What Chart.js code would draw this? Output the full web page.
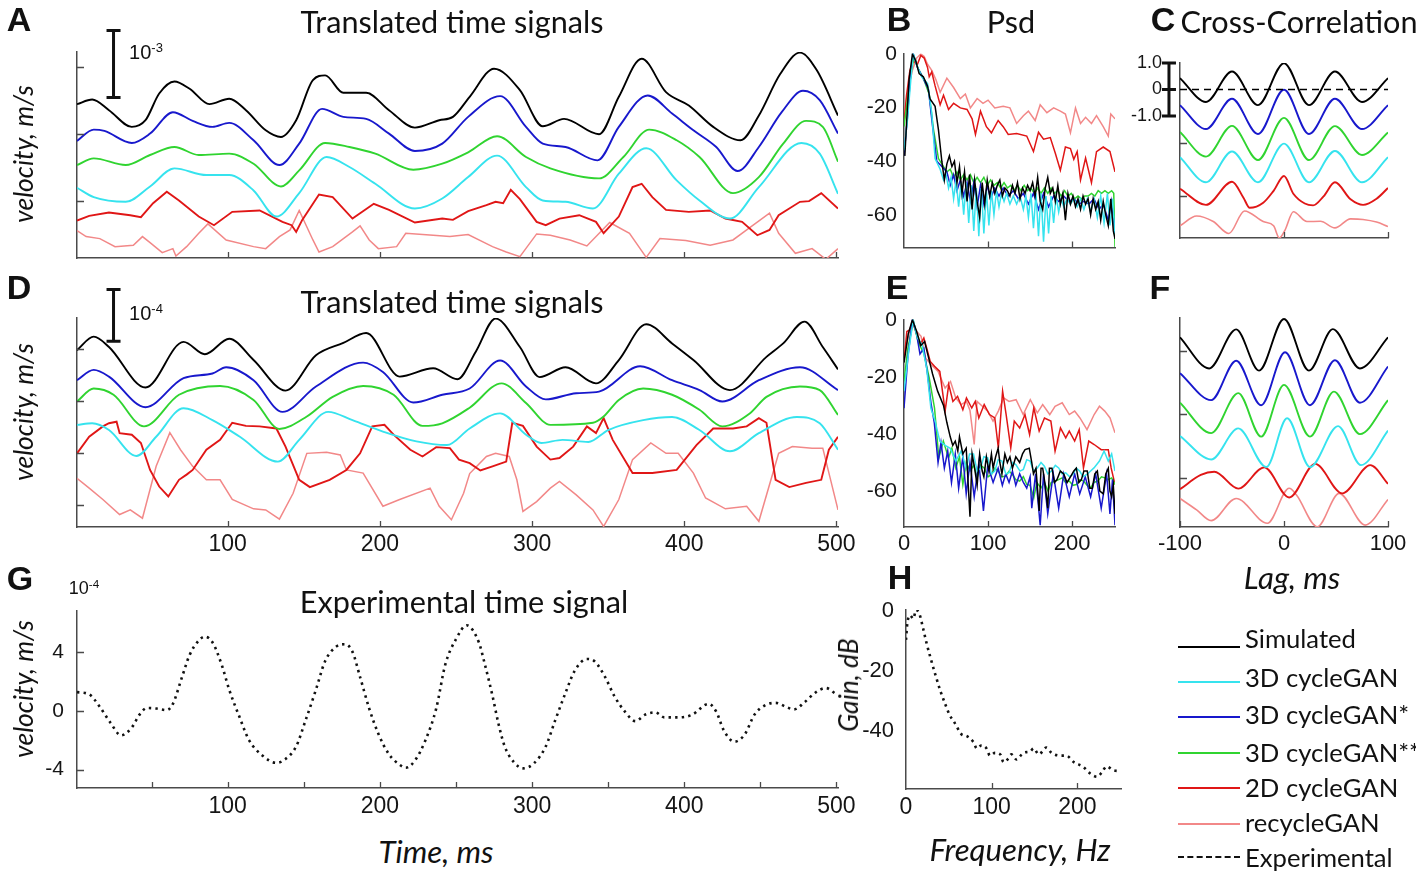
<!DOCTYPE html>
<html>
<head>
<meta charset="utf-8">
<script src="https://cdn.jsdelivr.net/npm/chart.js@4.4.1/dist/chart.umd.min.js"></script>
<style>
  body { margin: 0; width: 1416px; height: 872px; background: #fff; position: relative; overflow: hidden; }
  canvas { position: absolute; }
  .lbl { position: absolute; white-space: nowrap; line-height: 1; color: #111; }
  .lbl sup { font-size: 0.65em; vertical-align: 0.55em; }
  .key { position: absolute; height: 0; width: 62px; }
</style>
</head>
<body>
<script>
/* Simulated vs translated signals figure (panels A-H) */

// ---- A: translated time signals, x in ms, y in 1e-4 m/s (traces offset) ----
const A_sim = [[1,14.5],[11,15.2],[22,13.6],[37,11.1],[46,12.1],[55,16.1],[65,17.9],[75,16.8],[88,14.5],[101,15.3],[112,13.6],[125,10.6],[135,9.6],[145,12.1],[156,18.1],[164,18.8],[176,16.2],[191,16.2],[206,13.6],[223,11],[239,12.1],[248,12.6],[259,15.6],[275,19.8],[292,16.6],[307,11.2],[321,12.3],[344,10],[357,15.6],[372,21.3],[388,16.3],[403,14.3],[419,11.1],[437,9.1],[449,12.8],[463,19],[476,22.2],[487,19.6],[501,12.8]];
const A_c3s = [[1,9],[12,10.7],[19,10.5],[37,8.7],[49,10.1],[64,13.3],[77,12],[90,11.1],[101,11.7],[117,9.1],[134,5.4],[147,8.6],[162,13.8],[176,12.6],[191,12.3],[206,10.1],[223,7.5],[241,8.6],[258,12.6],[279,15.7],[296,11.1],[307,8.6],[322,8.1],[343,6.1],[357,11.1],[376,15.8],[392,13.1],[406,10.6],[421,8.1],[435,4.5],[449,8.1],[464,13.3],[478,16.5],[489,15.1],[501,10.1]];
const A_c3ss = [[1,5.4],[12,6.4],[33,5.4],[49,6.9],[65,8.1],[81,6.9],[101,7.1],[117,5.6],[135,2.2],[147,4.6],[164,8.7],[180,8.1],[197,7.1],[222,4.7],[241,5.6],[258,7.3],[277,9.7],[296,6.6],[312,4.9],[344,3.4],[360,6.6],[377,10.7],[395,9.1],[410,6.6],[432,1.2],[449,3.6],[465,8.6],[480,12],[491,11.1],[501,5.9]];
const A_c3 = [[1,2],[12,0.6],[33,-0.1],[49,2.2],[65,4.9],[86,3.9],[101,3.9],[117,1.6],[132,-2.3],[147,1.2],[165,6.6],[180,5.1],[197,2.6],[223,-1.1],[241,0.4],[258,3.6],[277,6.8],[296,2.1],[307,0.1],[322,-0.1],[340,-1.1],[357,4.1],[375,7.9],[395,3.1],[410,0.1],[430,-2.6],[449,2.1],[477,8.7],[489,7.1],[501,1.1]];
const A_c2 = [[1,-2.9],[9,-2.2],[22,-1.7],[36,-2.1],[43,-2.4],[51,-0.3],[60,1.4],[68,0.1],[81,-2.3],[91,-3.6],[103,-1.6],[121,-1.4],[136,-3.1],[142,-3.6],[145,-4.6],[149,-2.8],[160,1],[169,0.6],[182,-2.6],[196,-0.4],[206,-1.3],[223,-3.2],[241,-2.6],[248,-2.8],[258,-1.5],[270,-0.6],[276,-0.1],[281,-0.3],[286,1.7],[292,0.3],[303,-3.1],[309,-3.6],[318,-2.6],[331,-2.1],[342,-3.1],[347,-4.8],[357,-2.3],[366,2.1],[372,2.6],[379,0.6],[388,-1.3],[403,-1.6],[417,-1.4],[427,-2.6],[438,-3.1],[448,-5.1],[456,-4.3],[462,-2.1],[476,-0.1],[482,0],[490,1.2],[501,-1.1]];
const A_re = [[1,-4.4],[7,-5.3],[16,-5.6],[26,-6.8],[38,-6.6],[44,-5.3],[49,-6.2],[57,-7.7],[64,-7.1],[66,-8.2],[73,-6.8],[81,-4.8],[87,-3.4],[99,-5.8],[117,-6.8],[125,-7.1],[134,-5.3],[141,-4.3],[147,-1.4],[156,-5.8],[160,-7.6],[169,-6.8],[182,-4.6],[187,-3.7],[193,-5.8],[199,-7.1],[211,-6.8],[217,-4.8],[235,-5.1],[246,-5.3],[258,-5],[274,-6.8],[283,-7.6],[292,-8.3],[303,-4.9],[312,-5.1],[325,-5.8],[336,-6.7],[351,-3.2],[364,-4.8],[375,-8.4],[384,-5.6],[401,-5.9],[417,-6.6],[432,-5.8],[441,-4.3],[456,-1.8],[462,-4.8],[473,-7.8],[484,-7.1],[493,-8.7],[501,-7.1]];

// ---- D: translated time signals, y in 1e-4 m/s ----
const D_sim = [[1,2.98],[12,3.24],[22,3.04],[46,2.26],[71,3.14],[85,2.9],[101,3.2],[117,2.79],[138,2.2],[158,2.88],[176,3.12],[191,3.31],[213,2.47],[235,2.63],[251,2.42],[263,2.95],[276,3.59],[292,3.04],[305,2.46],[322,2.65],[342,2.34],[357,2.79],[375,3.48],[392,3.11],[406,2.79],[430,2.21],[454,2.85],[465,3.11],[479,3.53],[491,3.04],[501,2.61]];
const D_c3s = [[1,2.4],[12,2.6],[22,2.47],[46,1.88],[71,2.44],[90,2.53],[99,2.65],[117,2.4],[136,1.79],[158,2.28],[189,2.74],[202,2.56],[222,1.97],[241,2.12],[259,2.24],[279,2.78],[296,2.28],[309,2.03],[329,2.15],[344,2.18],[371,2.67],[392,2.4],[410,2.21],[425,1.99],[449,2.4],[476,2.65],[501,2.21]];
const D_c3ss = [[1,1.99],[12,2.24],[25,2.12],[45,1.51],[68,2.12],[95,2.29],[117,2.02],[134,1.46],[152,1.7],[169,2.08],[189,2.29],[209,2.12],[228,1.52],[241,1.57],[259,1.87],[280,2.34],[296,1.96],[312,1.54],[340,1.58],[347,1.7],[357,2.02],[373,2.24],[392,2.12],[410,1.83],[425,1.51],[443,1.76],[454,2.08],[476,2.28],[489,2.21],[501,1.73]];
const D_c3 = [[1,1.54],[11,1.57],[22,1.44],[40,0.94],[53,1.31],[71,1.86],[90,1.63],[108,1.31],[133,0.83],[147,1.25],[166,1.79],[182,1.63],[202,1.41],[224,1.22],[244,1.15],[259,1.47],[279,1.76],[296,1.35],[306,1.19],[320,1.25],[337,1.21],[350,1.44],[373,1.63],[392,1.69],[410,1.44],[430,1.03],[449,1.38],[474,1.69],[489,1.57],[501,1.06]];
const D_c2 = [[1,0.99],[9,1.31],[18,1.51],[22,1.57],[27,1.6],[29,1.38],[37,1.35],[43,1.19],[49,0.67],[55,0.35],[61,0.16],[68,0.48],[73,0.58],[77,0.67],[86,1.06],[95,1.25],[103,1.58],[112,1.52],[121,1.51],[132,1.47],[138,1.12],[147,0.48],[154,0.34],[167,0.48],[178,0.67],[187,0.99],[195,1.51],[203,1.54],[209,1.35],[220,1.06],[228,0.93],[237,1.11],[246,1.09],[252,0.87],[259,0.8],[266,0.66],[274,0.74],[283,0.83],[287,1.58],[294,1.52],[303,1.12],[312,0.87],[318,0.9],[327,1.12],[336,1.51],[342,1.38],[347,1.67],[353,1.25],[366,0.61],[379,0.61],[395,0.67],[408,1.15],[419,1.47],[432,1.47],[441,1.51],[449,1.67],[454,1.58],[460,0.48],[469,0.34],[480,0.42],[490,0.48],[495,1.06],[501,1.31]];
const D_re = [[1,0.51],[9,0.32],[18,0.1],[29,-0.19],[36,-0.1],[44,-0.26],[53,0.74],[62,1.39],[69,1.06],[77,0.74],[86,0.48],[95,0.48],[103,0.1],[117,-0.08],[125,-0.1],[134,-0.28],[143,0.22],[152,0.99],[165,1.01],[174,0.96],[178,0.67],[189,0.61],[202,-0.03],[213,0.1],[233,0.32],[239,-0.03],[247,-0.29],[255,0.22],[259,0.6],[270,0.93],[276,0.99],[285,0.93],[290,0.48],[294,-0.13],[303,0.06],[312,0.32],[318,0.45],[329,0.19],[340,-0.1],[347,-0.42],[357,0.1],[366,0.87],[378,1.19],[388,0.99],[396,0.99],[406,0.61],[414,0.13],[427,-0.08],[441,-0.03],[449,-0.32],[462,0.99],[471,1.12],[484,1.09],[491,1.09],[501,-0.1]];

// ---- G: experimental time signal, y in 1e-4 m/s ----
const G_exp = [[1,1.29],[9,1.14],[16,0.28],[23,-0.8],[30,-1.66],[37,-1.12],[42,-0.26],[47,0.21],[53,0.17],[60,0.06],[64,0.49],[70,2.32],[75,3.83],[80,4.69],[85,5.08],[90,4.69],[96,3.18],[101,1.46],[108,-0.47],[114,-1.98],[123,-3.05],[132,-3.53],[138,-3.27],[145,-2.41],[151,-0.69],[158,1.46],[164,3.4],[171,4.37],[177,4.56],[182,4.04],[187,2.32],[193,0.17],[199,-1.55],[206,-2.95],[213,-3.66],[217,-3.87],[223,-3.38],[230,-1.98],[237,0.17],[243,3.18],[250,4.9],[257,5.85],[265,4.69],[269,3.18],[274,1.03],[278,-0.9],[282,-2.41],[288,-3.48],[294,-3.91],[301,-3.59],[309,-2.41],[315,-0.69],[322,1.25],[328,2.75],[336,3.55],[341,3.4],[348,2.32],[354,1.03],[361,-0.04],[368,-0.69],[374,-0.26],[381,-0.09],[387,-0.43],[396,-0.43],[405,-0.26],[416,0.49],[421,-0.04],[426,-1.33],[433,-2.09],[440,-1.55],[446,-0.26],[453,0.39],[460,0.56],[467,0.28],[472,0.11],[479,0.6],[486,1.25],[493,1.57],[500,1.14]];

// ---- B: PSD (dB) vs frequency (Hz) ----
const B_sim = [[1,-38],[3,-26],[6,-9.6],[10,0],[14,-2.6],[18,-7.3],[23,-8.5],[28,-11.9],[31,-16.8],[37,-19.5],[41,-28.3],[45,-40],[48,-47],[51,-41],[54,-38],[57,-42],[60,-40],[63,-48],[66,-42],[69,-52],[72,-44],[75,-55],[78,-45],[81,-58],[84,-47],[87,-55],[90,-61],[93,-48],[96,-56],[99,-47],[102,-53],[105,-48],[108,-52],[111,-49],[114,-47],[117,-53],[120,-50],[123,-51],[126,-53],[129,-49],[132,-52],[135,-48],[138,-54],[141,-50],[144,-52],[147,-49],[150,-51],[153,-48],[156,-53],[159,-46],[162,-55],[165,-58],[168,-50],[171,-46],[174,-52],[177,-50],[180,-55],[183,-49],[186,-56],[189,-52],[192,-62],[195,-52],[198,-56],[201,-53],[204,-57],[207,-54],[210,-58],[213,-53],[216,-56],[219,-54],[222,-60],[225,-54],[228,-58],[231,-55],[234,-62],[237,-55],[240,-60],[243,-64],[246,-54],[249,-66],[251,-69]];
const B_c3 = [[0,-36],[4,-25],[8,-10],[11,0],[15,-4],[21,-8.5],[28,-11],[33,-22],[37,-39],[43,-43],[47,-47],[50,-45],[53,-50],[56,-46],[59,-54],[62,-47],[65,-57],[68,-48],[71,-60],[74,-48],[77,-63],[80,-49],[83,-66],[86,-50],[89,-68],[92,-50],[95,-67],[98,-51],[101,-64],[104,-51],[107,-60],[110,-51],[113,-57],[116,-52],[119,-55],[122,-52],[126,-56],[130,-53],[134,-56],[138,-53],[142,-58],[145,-53],[148,-61],[151,-52],[154,-65],[157,-52],[160,-68],[163,-52],[166,-70],[169,-53],[172,-67],[175,-53],[178,-63],[181,-53],[184,-59],[187,-54],[190,-57],[194,-54],[198,-56],[202,-54],[206,-57],[210,-54],[214,-58],[218,-54],[222,-59],[226,-54],[230,-61],[234,-53],[238,-63],[242,-52],[245,-64],[248,-54],[251,-67]];
const B_c3s = [[0,-38],[4,-24],[8,-7],[11,0],[16,-5],[22,-8.5],[29,-13],[34,-27],[39,-40],[45,-42],[51,-44],[55,-49],[59,-45],[63,-51],[67,-47],[71,-53],[75,-48],[79,-55],[83,-48],[87,-57],[91,-49],[95,-56],[99,-49],[103,-54],[108,-50],[113,-53],[118,-50],[124,-53],[130,-51],[136,-54],[142,-52],[148,-56],[154,-52],[160,-58],[166,-52],[172,-57],[178,-53],[184,-55],[190,-53],[196,-55],[202,-54],[208,-56],[214,-55],[220,-56],[226,-54],[232,-58],[237,-56],[243,-62],[247,-55],[251,-67]];
const B_c3ss = [[0,-27],[5,-15],[9,-6],[12,-1],[17,-5.5],[23,-9],[30,-15],[35,-28],[41,-39],[47,-42],[51,-44],[55,-43],[59,-46],[63,-44],[67,-47],[71,-45],[75,-47],[79,-45],[83,-48],[87,-46],[91,-48],[95,-46],[99,-49],[103,-47],[107,-49],[111,-48],[115,-50],[119,-48],[123,-50],[127,-49],[131,-51],[135,-49],[139,-51],[143,-49],[147,-51],[151,-50],[155,-52],[159,-50],[163,-52],[167,-50],[171,-52],[175,-50],[179,-52],[183,-51],[187,-53],[191,-51],[195,-53],[199,-52],[203,-54],[207,-53],[211,-54],[215,-53],[219,-53],[223,-52],[227,-53],[231,-51],[235,-52],[239,-51],[243,-52],[247,-51],[249.5,-52],[251,-72]];
const B_c2 = [[0,-26],[3,-15.4],[7,-6.1],[11,-2.6],[16,-3.8],[20,-0.5],[24,-1.5],[28,-5],[30,-8.5],[33,-6.7],[37,-11.9],[43,-18.9],[47,-15.4],[53,-20.7],[59,-18.4],[67,-20.1],[75,-20.7],[81,-24.2],[85,-30],[91,-21.3],[98,-27.1],[104,-29.4],[112,-24.8],[118,-27.1],[124,-30],[134,-29.7],[146,-30.6],[154,-36.4],[160,-29.2],[166,-31.8],[174,-31.2],[180,-37],[186,-43.4],[192,-34.7],[198,-35.3],[202,-39.3],[206,-36.4],[210,-47],[216,-38.8],[223,-48],[229,-36.4],[237,-34.7],[245,-36.4],[251,-44]];
const B_re = [[0,-22.4],[5,-13.1],[10,-6.1],[15,-1.5],[20,0],[24,-0.9],[28,-3.8],[33,-6.1],[38,-9.6],[43,-14.3],[51,-9],[59,-12.5],[67,-16.6],[73,-14.9],[79,-20.1],[87,-16.6],[94,-18.4],[100,-17.2],[108,-20.1],[118,-19.5],[126,-20.1],[134,-25.9],[142,-23],[148,-21.3],[156,-24.8],[162,-18.9],[170,-21.9],[178,-20.1],[186,-21.3],[192,-22.4],[198,-29.4],[204,-20.1],[210,-25.9],[216,-23.6],[223,-25.9],[229,-23],[237,-27.1],[243,-30.6],[246,-22.4],[251,-24.2]];

// ---- E: PSD (dB) ----
const E_sim = [[0,-15],[5,-5],[10,0],[15,-4],[20,-9],[24.5,-7.6],[29,-13],[34,-19],[40,-25],[47,-30],[51,-36],[55,-41],[58,-44],[61,-42.5],[64,-46],[66,-41],[70,-47],[74,-45],[78.5,-69],[81,-47],[84,-52],[87,-58],[90,-47],[93,-53],[95,-55],[98,-48],[101,-53],[104,-47],[106,-52],[109,-48],[112,-45],[114,-50],[116.5,-54],[120,-47],[123,-50],[126,-48],[129,-52],[133,-48],[137.6,-50],[141,-47],[144,-45.5],[149,-45],[152,-50],[154,-54],[157,-52],[160.8,-67],[163,-52],[165,-52],[168,-58],[171,-66],[173,-52],[176,-52],[179,-57],[182,-56],[186,-53],[190,-54],[194,-57],[198,-55],[202,-53],[205,-52],[208,-57],[211,-56],[214,-53],[218,-53],[221,-59],[224,-59],[227,-54],[230,-53],[233,-60],[237,-61],[240,-54],[243,-52],[245,-60],[247,-62],[249,-58],[251,-68]];
const E_c3 = [[0,-25],[6,-10],[11,0],[16,-6.4],[21.5,-8.7],[27,-17],[32,-31],[37,-35.5],[42.6,-42.5],[49,-44],[55,-45],[61.6,-49.5],[68,-46],[74,-52],[78,-47],[82.7,-47],[87,-53],[91,-52],[95,-48],[99.6,-48.4],[104,-54],[108,-53],[112,-49],[116.5,-49.5],[121,-54],[125,-53.6],[129,-50],[133,-50.7],[138,-53],[142,-52.4],[146,-49],[150,-49.5],[154,-53],[158.6,-51.9],[163,-50],[167,-51.3],[171,-54],[175.5,-53],[180,-51],[184,-51.9],[188,-54],[192.4,-53.6],[197,-55],[200.8,-54.2],[205,-52],[209,-53],[213,-55],[217.7,-54.2],[222,-53],[226,-51.9],[232.5,-49.5],[238,-46],[243,-49.5],[247,-47],[251,-53]];
const E_c3s = [[0,-31],[4.6,-13],[10,0],[15,-5],[19,-12],[23.6,-10],[28,-19],[32,-29],[36,-36],[40.5,-50],[44,-43],[48,-52],[52,-46],[56.5,-57],[61,-47],[65,-59],[70,-48],[74,-61],[78.5,-50],[83.5,-62],[89,-50],[94.5,-67],[99.6,-51],[106,-57],[112,-52],[117,-58],[121,-54],[125,-57],[129,-53],[133,-58],[137.6,-54],[142,-57],[146,-59],[150,-55],[152,-66],[156.5,-54],[162,-72],[166,-54],[171,-68],[177.6,-54],[184,-66],[190,-54],[196.6,-62],[203,-54],[209,-61],[215.6,-55],[222,-62],[228,-54],[234.6,-66],[241,-54],[245,-68],[248,-56],[251,-72]];
const E_c3ss = [[0,-21.6],[4.6,-9.9],[11,-0.6],[17.3,-8.2],[23.6,-11.7],[30,-20.4],[36.3,-30.9],[41.4,-48.4],[46.8,-42.5],[53,-48.4],[57,-45],[61.6,-51.9],[66,-48],[70,-57.7],[74,-50],[78.5,-53],[83,-51],[87,-55.4],[91,-51],[95.4,-51.9],[100,-55],[104,-54.2],[108,-52],[112,-53],[116,-55],[120.7,-54.8],[125,-53],[129,-54.2],[133,-56],[137.6,-56.5],[142,-55],[146,-57.7],[150,-58],[154.4,-62.4],[158,-57],[163,-58.9],[167,-57],[171.3,-60],[175,-57],[179.7,-56.5],[184,-56],[188,-55.4],[192,-57],[196.6,-56.5],[201,-58],[205,-57.7],[209,-56],[213.5,-56.5],[218,-58],[222,-58.9],[226,-57],[230.4,-56.5],[235,-55],[239,-55.4],[243,-56],[247,-55.4],[251,-57.7]];
const E_c2 = [[0,-14.6],[3.4,-4.1],[6.8,-3.5],[11,-0.3],[15.2,-5.2],[19.4,-8.7],[23.6,-6.4],[27,-9.9],[31.2,-14.6],[36.3,-16.3],[42.6,-18.1],[48.9,-32],[53.2,-22.7],[58.2,-28.6],[63.7,-26.8],[70,-31.5],[74.3,-27.4],[80.6,-30.9],[84.8,-28.6],[89,-34.4],[95.4,-29.7],[101.7,-33.2],[108,-34.4],[112.2,-44.9],[117.3,-25],[121.5,-33.2],[127,-44.9],[131.2,-35.5],[137.6,-37.9],[143.9,-33.2],[149.4,-40.2],[154.4,-30.9],[160.8,-39],[167.1,-34.4],[174.7,-35.5],[179.7,-46],[186.1,-37.9],[192.4,-41.4],[196.6,-39],[203,-42.5],[208.4,-38.5],[213.5,-51.9],[219.8,-42.5],[226.2,-43.7],[234.6,-45.5],[243,-45.5],[246.4,-51.9],[251,-57.7]];
const E_re = [[0,-13.4],[4.6,-6.4],[8.9,-1.2],[15.2,-4.1],[20.3,-5.8],[25.7,-13.4],[32.1,-15.7],[40.5,-18.1],[48.9,-23.9],[55.3,-21.6],[61.6,-27.4],[67.9,-29.7],[74.3,-28.6],[78.5,-31.8],[83.5,-43.7],[86.9,-28.6],[93.2,-30.3],[99.6,-32],[105.9,-35.5],[112.2,-32],[118.6,-27.4],[124.9,-28.6],[133.3,-28],[141.8,-33.2],[150.2,-28],[158.6,-32.6],[165,-29.7],[173.4,-33.2],[179.7,-30.3],[188.2,-29.1],[196.6,-33.2],[203,-32],[209.3,-34.4],[217.7,-38.5],[226.2,-33.2],[232.5,-30.3],[238.8,-32],[245.1,-34.4],[251,-39.6]];

// ---- H: experimental PSD (dB) ----
const H_exp = [[0,-9.6],[1.5,-4.2],[4.7,-1.4],[8.6,-2.5],[11.7,0.4],[15.6,-0.9],[20,-5.8],[24,-10.7],[28,-15],[34,-21],[40,-26.6],[45.6,-31],[51,-34.8],[57,-37.5],[65,-41.3],[71,-41.9],[79,-44],[82.6,-46],[88,-45],[94,-46],[98,-48.4],[104,-47.5],[110,-48],[114,-50.6],[120,-49.2],[123,-48],[129,-49.7],[137,-47.5],[145,-47],[149,-46],[155,-48],[164,-45.7],[170,-47.5],[180,-48.4],[187,-48.4],[196,-50.6],[207,-52.2],[215,-54.4],[223,-55.5],[229,-53.9],[234,-52],[242,-53.3],[250,-53.6]];

// ---- C / F: cross-correlation vs lag (ms), traces offset ----
const C_sim = [[-100,0.43],[-75,-0.47],[-50,0.68],[-25,-0.59],[0,0.99],[24,-0.59],[49,0.68],[75,-0.47],[100,0.43]];
const C_c3s = [[-100,-0.59],[-75,-1.49],[-50,-0.35],[-25,-1.68],[0,-0.01],[24,-1.68],[49,-0.35],[75,-1.49],[100,-0.59]];
const C_c3ss = [[-100,-1.6],[-75,-2.53],[-50,-1.37],[-25,-2.66],[0,-1.07],[24,-2.66],[49,-1.38],[75,-2.47],[100,-1.62]];
const C_c3 = [[-100,-2.55],[-75,-3.5],[-50,-2.34],[-25,-3.5],[0,-2.04],[24,-3.5],[49,-2.32],[75,-3.5],[100,-2.55]];
const C_c2 = [[-100,-3.74],[-75,-4.35],[-50,-3.48],[-39,-4.08],[-33,-4.46],[-20,-4.27],[-10,-3.82],[0,-3.26],[9,-3.93],[20,-4.3],[28,-4.37],[38,-4.03],[49,-3.5],[64,-4.14],[76,-4.35],[89,-4.12],[100,-3.71]];
const C_re = [[-100,-5.14],[-84,-4.77],[-68,-4.98],[-53,-5.43],[-38,-4.58],[-20,-4.98],[-10,-5.14],[-4.5,-5.6],[1,-5.3],[9,-4.61],[22,-4.98],[35,-4.97],[49,-5.22],[64,-4.88],[76,-4.9],[89,-5.0],[100,-5.17]];
const C_zero = [[-100,0],[100,0]];

const F_sim = [[-100,0.42],[-72,-0.56],[-46,0.67],[-24,-0.63],[0,1.0],[24,-0.63],[47,0.68],[73,-0.56],[100,0.42]];
const F_c3s = [[-100,-0.71],[-70,-1.56],[-46,-0.32],[-22,-1.72],[1,-0.05],[25,-1.72],[49,-0.3],[73,-1.64],[100,-0.5]];
const F_c3ss = [[-100,-1.64],[-70,-2.6],[-44,-1.34],[-22,-2.71],[0,-1.08],[25,-2.71],[48,-1.29],[73,-2.63],[100,-1.56]];
const F_c3 = [[-100,-2.69],[-70,-3.43],[-44,-2.45],[-17,-3.67],[3,-2.13],[25,-3.67],[52,-2.38],[74,-3.61],[100,-2.52]];
const F_c2 = [[-100,-4.37],[-80,-3.92],[-67,-3.82],[-44,-4.35],[-19,-3.68],[5,-4.63],[30,-3.57],[56,-4.5],[83,-3.61],[100,-4.2]];
const F_re = [[-100,-4.66],[-84,-5.02],[-70,-5.36],[-46,-4.66],[-16,-5.44],[5,-4.34],[12,-4.55],[32,-5.55],[53,-4.5],[78,-5.5],[100,-4.69]];

// ticks
const timeTicks = [100, 200, 300, 400, 500];
const timeTicksG = [50, 100, 150, 200, 250, 300, 350, 400, 450, 500];
const freqTicks = [0, 100, 200];
const dbTicks = [0, -20, -40, -60];
const dbTicksH = [0, -20, -40];
const lagTicks = [-100, 0, 100];
const corrTicks = [1, 0, -1];
const corrTickLabels = { "1": "1.0", "0": "0", "-1": "-1.0" };

const legendNames = ["Simulated", "3D cycleGAN", "3D cycleGAN*", "3D cycleGAN**", "2D cycleGAN", "recycleGAN", "Experimental"];

const COL = { sim: "#000000", c3: "#36e3ee", c3s: "#1818cc", c3ss: "#30d430", c2: "#e01616", re: "#f28888", exp: "#111111" };
const NUM = "'Liberation Sans', Arial, sans-serif";
const TXT = "Lato, 'Open Sans', sans-serif";

Chart.defaults.font.family = NUM;

function line(data, color, w, smooth) {
  return {
    data, borderColor: color, borderWidth: w, pointRadius: 0, fill: false,
    tension: 0, cubicInterpolationMode: smooth ? "monotone" : "default",
  };
}
function dotted(data) {
  return Object.assign(line(data, COL.exp, 2.6, true), { borderDash: [2.4, 4.2] });
}

// inward ticks + scale bars, all placed through the chart's own scales
const deco = {
  id: "deco",
  afterDraw(chart, args, o) {
    const { ctx, chartArea: a, scales: { x, y } } = chart;
    ctx.save();
    ctx.strokeStyle = "#4a4a4a";
    ctx.lineWidth = 1.3;
    ctx.beginPath();
    (o.xt || []).forEach((v) => { const p = Math.round(x.getPixelForValue(v)) + 0.5; ctx.moveTo(p, a.bottom); ctx.lineTo(p, a.bottom - 6); });
    (o.yt || []).forEach((v) => { const p = Math.round(y.getPixelForValue(v)) + 0.5; ctx.moveTo(a.left, p); ctx.lineTo(a.left + 7, p); });
    ctx.stroke();
    if (o.bar) {
      const b = o.bar;
      const px = x.getPixelForValue(b.x);
      ctx.strokeStyle = "#111";
      ctx.lineWidth = 3;
      ctx.beginPath();
      ctx.moveTo(px, y.getPixelForValue(b.y0));
      ctx.lineTo(px, y.getPixelForValue(b.y1));
      [b.y0, b.y1].concat(b.mid === undefined ? [] : [b.mid]).forEach((v) => {
        const p = y.getPixelForValue(v);
        ctx.moveTo(px - 7, p); ctx.lineTo(px + 7, p);
      });
      ctx.stroke();
    }
    ctx.restore();
  },
};

function panel(box, pad, xo, yo, datasets, decoOpts) {
  const [l, t, r, b] = box;
  const [pl, pt, pr, pb] = pad;
  const w = r - l + pl + pr, h = b - t + pt + pb;
  const cv = document.createElement("canvas");
  cv.width = w; cv.height = h;
  Object.assign(cv.style, { left: l - pl + "px", top: t - pt + "px", width: w + "px", height: h + "px" });
  document.body.appendChild(cv);

  const axis = (o, fit) => ({
    type: "linear",
    min: o.min, max: o.max,
    grid: { display: true, drawOnChartArea: false, drawTicks: false },
    border: { display: true, color: "#4a4a4a", width: 1.5 },
    ticks: {
      display: !!o.labels,
      padding: o.pad || 6,
      color: "#151515",
      maxRotation: 0,
      autoSkip: false,
      font: { family: NUM, size: o.size || 23, lineHeight: 1 },
      callback: o.fmt || ((v) => v),
    },
    afterBuildTicks: (s) => { s.ticks = (o.labels || []).map((v) => ({ value: v })); },
    afterFit: fit,
  });

  return new Chart(cv, {
    type: "line",
    data: { datasets },
    options: {
      responsive: false, animation: false, events: [], devicePixelRatio: 1,
      layout: { padding: { left: 0, top: pt, right: pr, bottom: 0 } },
      plugins: { legend: { display: false }, tooltip: { enabled: false }, deco: decoOpts },
      scales: {
        x: axis(xo, (s) => { s.height = pb; }),
        y: axis(yo, (s) => { s.width = pl; }),
      },
    },
    plugins: [deco],
  });
}

// A
panel([77, 52, 838, 258], [60, 30, 10, 6],
  { min: 1, max: 501 }, { min: -8.5, max: 22.3 },
  [line(A_sim, COL.sim, 1.9, true), line(A_c3s, COL.c3s, 1.9, true), line(A_c3ss, COL.c3ss, 1.9, true),
   line(A_c3, COL.c3, 1.9, true), line(A_c2, COL.c2, 1.9), line(A_re, COL.re, 1.5)],
  { xt: timeTicks, yt: [0, 10, 20], bar: { x: 25, y0: 15.5, y1: 25.5 } });

// D
panel([77, 318, 838, 527], [60, 35, 32, 36],
  { min: 1, max: 501, labels: timeTicks, pad: 6, size: 23 }, { min: -0.43, max: 3.6 },
  [line(D_sim, COL.sim, 1.9, true), line(D_c3s, COL.c3s, 1.9, true), line(D_c3ss, COL.c3ss, 1.9, true),
   line(D_c3, COL.c3, 1.9, true), line(D_c2, COL.c2, 1.9), line(D_re, COL.re, 1.5)],
  { xt: timeTicks, yt: [0, 1, 2, 3], bar: { x: 25, y0: 3.15, y1: 4.15 } });

// G
panel([77, 599, 838, 788], [60, 12, 32, 36],
  { min: 1, max: 501, labels: timeTicksG, pad: 7, size: 23, fmt: (v) => (v % 100 === 0 ? v : "") },
  { min: -5.25, max: 6.86, labels: [-4, 0, 4], pad: 13, size: 21 },
  [dotted(G_exp)],
  { xt: timeTicksG, yt: [-4, 0, 4] });

// B
panel([904, 52, 1115, 259], [50, 16, 10, 6],
  { min: 0, max: 251 }, { min: -72.2, max: 0.2, labels: dbTicks, pad: 7, size: 21 },
  [line(B_sim, COL.sim, 1.5), line(B_c3, COL.c3, 1.5), line(B_c3s, COL.c3s, 1.5), line(B_c3ss, COL.c3ss, 1.5),
   line(B_c2, COL.c2, 1.5), line(B_re, COL.re, 1.5)],
  { xt: [100, 200] });

// E
panel([904, 318, 1115, 527], [50, 16, 26, 36],
  { min: 0, max: 251, labels: freqTicks, pad: 6, size: 22 }, { min: -72.6, max: 0.1, labels: dbTicks, pad: 7, size: 21 },
  [line(E_sim, COL.sim, 1.5), line(E_c3, COL.c3, 1.5), line(E_c3s, COL.c3s, 1.5), line(E_c3ss, COL.c3ss, 1.5),
   line(E_c2, COL.c2, 1.5), line(E_re, COL.re, 1.5)],
  { xt: [100, 200] });

// H
panel([906, 603, 1121, 789], [56, 16, 26, 36],
  { min: 0, max: 251, labels: freqTicks, pad: 7, size: 23 }, { min: -59.6, max: 0.4, labels: dbTicksH, pad: 12, size: 22 },
  [dotted(H_exp)],
  { xt: [100, 200] });

// C
panel([1180, 52, 1388, 259], [60, 16, 10, 6],
  { min: -100, max: 100 },
  { min: -5.6, max: 1.0, labels: corrTicks, pad: 18, size: 18, fmt: (v) => corrTickLabels[String(v)] },
  [line(C_zero, COL.sim, 1.5), line(C_sim, COL.sim, 1.9, true), line(C_c3s, COL.c3s, 1.9, true), line(C_c3ss, COL.c3ss, 1.9, true),
   line(C_c3, COL.c3, 1.9, true), line(C_c2, COL.c2, 1.9, true), line(C_re, COL.re, 1.6, true)],
  { xt: [0, 100], yt: [-2, -4], bar: { x: -110.6, y0: -1, y1: 1, mid: 0 } });
// dashed zero line
{
  const c = Chart.getChart(document.querySelectorAll("canvas")[6]);
  c.data.datasets[0].borderDash = [7, 5];
  c.update("none");
}

// F
panel([1180, 318, 1388, 527], [30, 16, 30, 36],
  { min: -100, max: 100, labels: lagTicks, pad: 6, size: 22 }, { min: -5.56, max: 1.03 },
  [line(F_sim, COL.sim, 1.9, true), line(F_c3s, COL.c3s, 1.9, true), line(F_c3ss, COL.c3ss, 1.9, true),
   line(F_c3, COL.c3, 1.9, true), line(F_c2, COL.c2, 1.9, true), line(F_re, COL.re, 1.6, true)],
  { xt: lagTicks, yt: [0, -2, -4] });

// ---- text ----
function fit(text, style, target) {
  const c = document.createElement("canvas").getContext("2d");
  c.font = `${style} 100px ${TXT}`;
  return (100 * target) / c.measureText(text).width;
}
function label(html, cx, cy, font, rot = 0, anchor = "-50%") {
  const d = document.createElement("div");
  d.className = "lbl";
  d.innerHTML = html;
  d.style.font = font;
  d.style.left = cx + "px";
  d.style.top = cy + "px";
  d.style.transform = `translate(${anchor},-50%) rotate(${rot}deg)`;
  document.body.appendChild(d);
}

const titleSize = fit("Translated time signals", "normal", 303);
const sideSize = fit("velocity, m/s", "italic", 138);
const bottomSize = fit("Time, ms", "italic", 115);
const keySize = fit("Simulated", "normal", 111);

[["A", 19, 19], ["B", 899, 19], ["C", 1163, 19], ["D", 19, 287], ["E", 897, 287], ["F", 1160, 287], ["G", 20, 578], ["H", 900, 577]]
  .forEach(([s, x, y]) => label(s, x, y, `bold 34px ${NUM}`));

const tf = `${titleSize}px ${TXT}`;
label("Translated time signals", 452, 21, tf);
label("Psd", 1011, 21, tf);
label("Cross-Correlation", 1299, 21, tf);
label("Translated time signals", 452, 301, tf);
label("Experimental time signal", 464, 601, tf);

const sf = `italic ${sideSize}px ${TXT}`;
label("velocity, m/s", 23, 154, sf, -90);
label("velocity, m/s", 23, 412, sf, -90);
label("velocity, m/s", 23, 689, sf, -90);
label("Gain, dB", 848, 685, sf, -90);

const bf = `italic ${bottomSize}px ${TXT}`;
label("Time, ms", 436, 851, bf);
label("Frequency, Hz", 1020, 849, bf);
label("Lag, ms", 1292, 577, bf);

label("10<sup>-3</sup>", 146, 52, `20px ${NUM}`);
label("10<sup>-4</sup>", 146, 313, `20px ${NUM}`);
label("10<sup>-4</sup>", 84, 588, `18px ${NUM}`);

// legend
const keyCols = [COL.sim, COL.c3, COL.c3s, COL.c3ss, COL.c2, COL.re, COL.exp];
const keyLineY = [647, 682, 717, 753, 788, 824, 857];
const keyTextY = [638, 677, 714, 752, 787, 822, 857];
legendNames.forEach((name, i) => {
  const k = document.createElement("div");
  k.className = "key";
  k.style.left = "1178px";
  k.style.top = keyLineY[i] - 1 + "px";
  k.style.borderTop = i === 6 ? `2px dashed ${keyCols[i]}` : `2px solid ${keyCols[i]}`;
  document.body.appendChild(k);
  label(name, 1245, keyTextY[i], `${keySize}px ${TXT}`, 0, "0");
});
</script>
</body>
</html>
